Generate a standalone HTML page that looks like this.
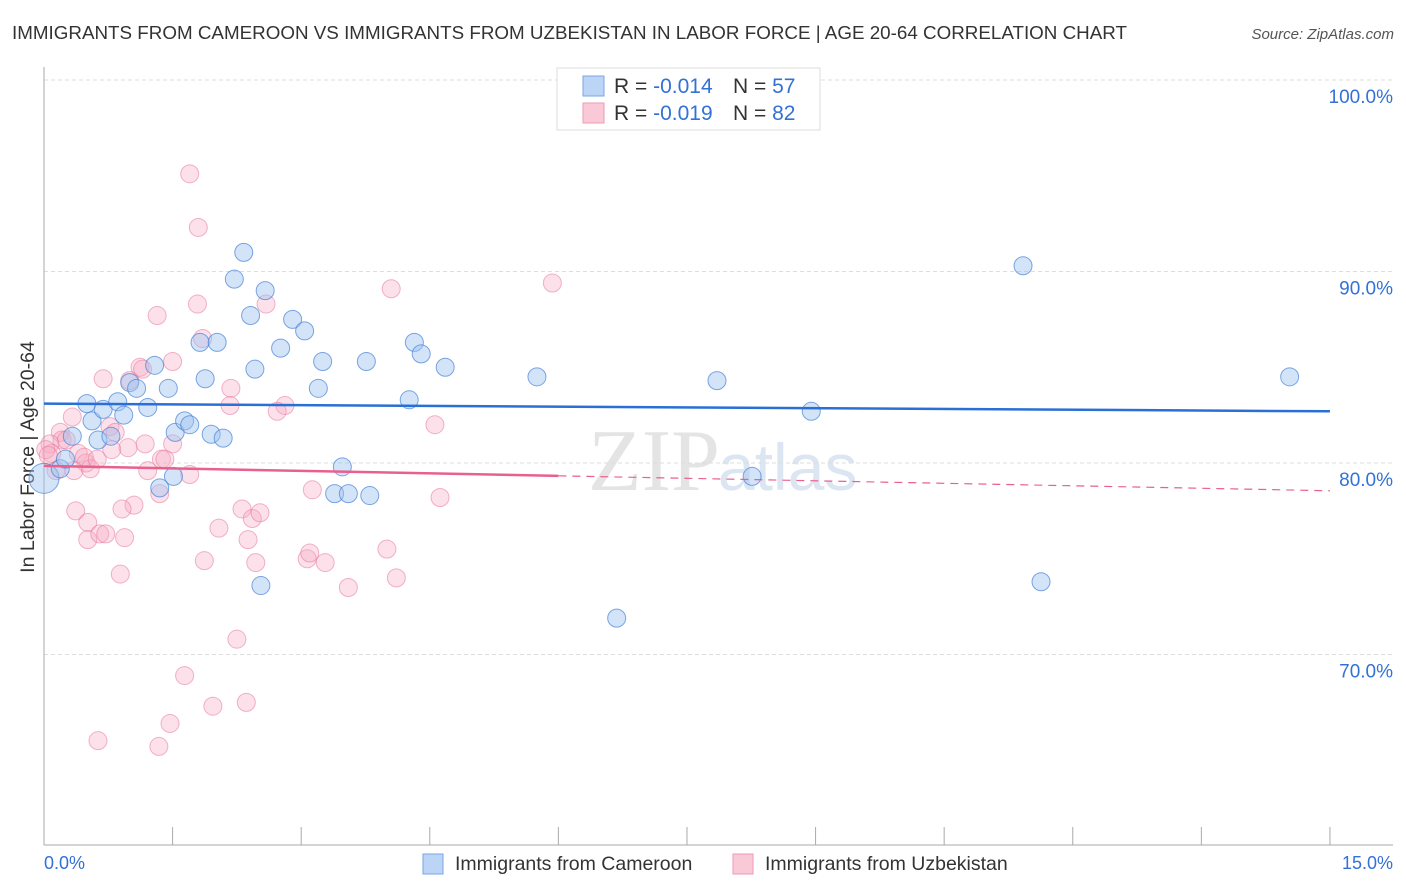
<!DOCTYPE html>
<html><head><meta charset="utf-8"><style>
body{margin:0;background:#fff;font-family:"Liberation Sans",sans-serif;}
svg{display:block}
</style></head><body>
<svg id="c" width="1406" height="892" xmlns="http://www.w3.org/2000/svg">
<text x="12" y="39" font-size="18.6" fill="#333" textLength="1115" lengthAdjust="spacingAndGlyphs">IMMIGRANTS FROM CAMEROON VS IMMIGRANTS FROM UZBEKISTAN IN LABOR FORCE | AGE 20-64 CORRELATION CHART</text>
<text x="1394" y="39" font-size="15" fill="#555" font-style="italic" text-anchor="end">Source: ZipAtlas.com</text>
<text x="720" y="490" font-size="88" fill="#e4e4e4" font-family="Liberation Serif,serif" text-anchor="end">ZIP</text>
<text x="718" y="490" font-size="66" fill="#dce6f2">atlas</text>
<text transform="translate(34,457) rotate(-90)" font-size="19.5" fill="#333" text-anchor="middle">In Labor Force | Age 20-64</text>
<g id="grid"></g><g id="pts"></g><g id="trend"></g>
<g>
<rect x="557" y="68" width="263" height="62" fill="#fff" stroke="#ddd"/>
<rect x="583" y="76" width="21" height="20" fill="#bcd4f5" stroke="#7aa6e6"/>
<rect x="583" y="103" width="21" height="20" fill="#fac9d8" stroke="#ee9ab4"/>
<text x="614" y="93" font-size="21" fill="#333">R = <tspan fill="#3371d6">-0.014</tspan><tspan x="733">N = </tspan><tspan fill="#3371d6">57</tspan></text>
<text x="614" y="120" font-size="21" fill="#333">R = <tspan fill="#3371d6">-0.019</tspan><tspan x="733">N = </tspan><tspan fill="#3371d6">82</tspan></text>
</g>
<text x="44" y="869" font-size="18" fill="#3371d6">0.0%</text>
<text x="1393" y="869" font-size="18" fill="#3371d6" text-anchor="end">15.0%</text>
<g>
<rect x="423" y="854" width="20" height="20" fill="#bcd4f5" stroke="#7aa6e6"/>
<text x="455" y="870" font-size="19.5" fill="#333">Immigrants from Cameroon</text>
<rect x="733" y="854" width="20" height="20" fill="#fac9d8" stroke="#ee9ab4"/>
<text x="765" y="870" font-size="19.5" fill="#333">Immigrants from Uzbekistan</text>
</g>
</svg>
<script>
const yTicks=[100,90,80,70];
const yTickLabels=["100.0%","90.0%","80.0%","70.0%"];
const xTicks=[0,1.5,3,4.5,6,7.5,9,10.5,12,13.5,15];
const cameroonX=[0.0,0.19,0.33,0.5,0.56,0.63,0.69,0.78,0.86,0.93,1.0,1.08,1.21,1.29,1.45,1.53,1.64,1.70,1.51,1.35,1.82,1.88,1.95,2.02,2.09,2.22,2.33,2.41,2.46,2.58,2.76,2.90,3.04,3.20,3.25,3.48,3.39,3.55,3.76,3.80,2.53,4.26,4.32,4.40,4.68,5.75,6.68,7.85,8.26,8.95,11.42,11.63,14.53,0.25];
const cameroonY=[79.2,79.7,81.4,83.1,82.2,81.2,82.8,81.4,83.2,82.5,84.2,83.9,82.9,85.1,83.9,81.6,82.2,82.0,79.3,78.7,86.3,84.4,81.5,86.3,81.3,89.6,91.0,87.7,84.9,89.0,86.0,87.5,86.9,83.9,85.3,79.8,78.4,78.4,85.3,78.3,73.6,83.3,86.3,85.7,85.0,84.5,71.9,84.3,79.3,82.7,90.3,73.8,84.5,80.2];
const uzbekX=[1.70,1.80,5.93,4.05,1.32,1.79,2.59,1.85,1.50,1.12,1.15,0.69,1.00,2.18,2.17,2.81,2.72,4.56,0.33,0.19,0.21,0.26,0.07,0.09,0.40,0.49,0.47,0.14,0.35,0.54,0.77,0.83,0.98,0.79,0.62,1.18,1.37,1.41,1.50,1.70,1.21,1.05,0.91,1.35,0.37,0.51,0.51,0.65,0.72,0.94,2.04,2.31,2.43,2.38,2.52,1.87,2.47,3.13,3.07,3.10,3.28,4.00,4.11,3.55,0.89,4.62,2.25,1.64,1.97,2.36,1.47,0.63,1.34,0.02,0.05];
const uzbekY=[95.1,92.3,89.4,89.1,87.7,88.3,88.3,86.5,85.3,85.0,84.9,84.4,84.3,83.9,83.0,83.0,82.7,82.0,82.4,81.6,81.2,81.2,81.0,80.5,80.5,80.0,80.3,79.6,79.6,79.7,81.9,81.6,80.8,80.7,80.2,81.0,80.2,80.2,81.0,79.4,79.6,77.8,77.6,78.4,77.5,76.9,76.0,76.3,76.3,76.1,76.6,77.6,77.1,76.0,77.4,74.9,74.8,78.6,75.0,75.3,74.8,75.5,74.0,73.5,74.2,78.2,70.8,68.9,67.3,67.5,66.4,65.5,65.2,80.7,80.4];
const trendBlue=[83.1,82.7];
const trendPink=[79.85,78.55];
const NS='http://www.w3.org/2000/svg';
const X=v=>44+v*85.73, Y=v=>80+(100-v)*19.15;
function mk(t,a,p){const e=document.createElementNS(NS,t);for(const k in a)e.setAttribute(k,a[k]);p.appendChild(e);return e;}
const grid=document.getElementById('grid');
yTicks.forEach((t,i)=>{
 const l=mk('line',{x1:44,x2:1393,y1:Y(t),y2:Y(t),stroke:'#ddd','stroke-dasharray':'4,3'},grid);
 
 
 const tx=mk('text',{x:1393,y:Y(t)+23,'font-size':19,fill:'#3371d6','text-anchor':'end'},grid);
 tx.textContent=yTickLabels[i];
 
 
});
const ax=mk('line',{x1:44,x2:44,y1:67,y2:845,stroke:'#aaa'},grid);


const bx=mk('line',{x1:44,x2:1393,y1:845,y2:845,stroke:'#aaa'},grid);


xTicks.forEach(t=>{
 const l=mk('line',{x1:X(t),x2:X(t),y1:827,y2:845,stroke:'#aaa'},grid);
 
 
});
const pts=document.getElementById('pts');
uzbekX.forEach((x,i)=>{
 const c=mk('circle',{cx:X(x),cy:Y(uzbekY[i]),r:9,fill:'rgba(247,170,195,0.35)',stroke:'rgba(232,120,155,0.55)'},pts);
 
 
});
cameroonX.forEach((x,i)=>{
 const c=mk('circle',{cx:X(x),cy:Y(cameroonY[i]),r:i==0?15:9,fill:'rgba(160,196,240,0.45)',stroke:'rgba(70,130,215,0.7)'},pts);
 
 
});
const tr=document.getElementById('trend');
const pb=mk('line',{x1:X(0),y1:Y(trendBlue[0]),x2:X(15),y2:Y(trendBlue[1]),stroke:'#2a6fd6','stroke-width':2.5},tr);


const py=v=>trendPink[0]+(trendPink[1]-trendPink[0])*v/15;
const pp=mk('line',{x1:X(0),y1:Y(py(0)),x2:X(6),y2:Y(py(6)),stroke:'#e8608e','stroke-width':2.5},tr);


const pd=mk('line',{x1:X(6),y1:Y(py(6)),x2:X(15),y2:Y(py(15)),stroke:'#e8608e','stroke-width':1.2,'stroke-dasharray':'8,6'},tr);


</script>
</body></html>
